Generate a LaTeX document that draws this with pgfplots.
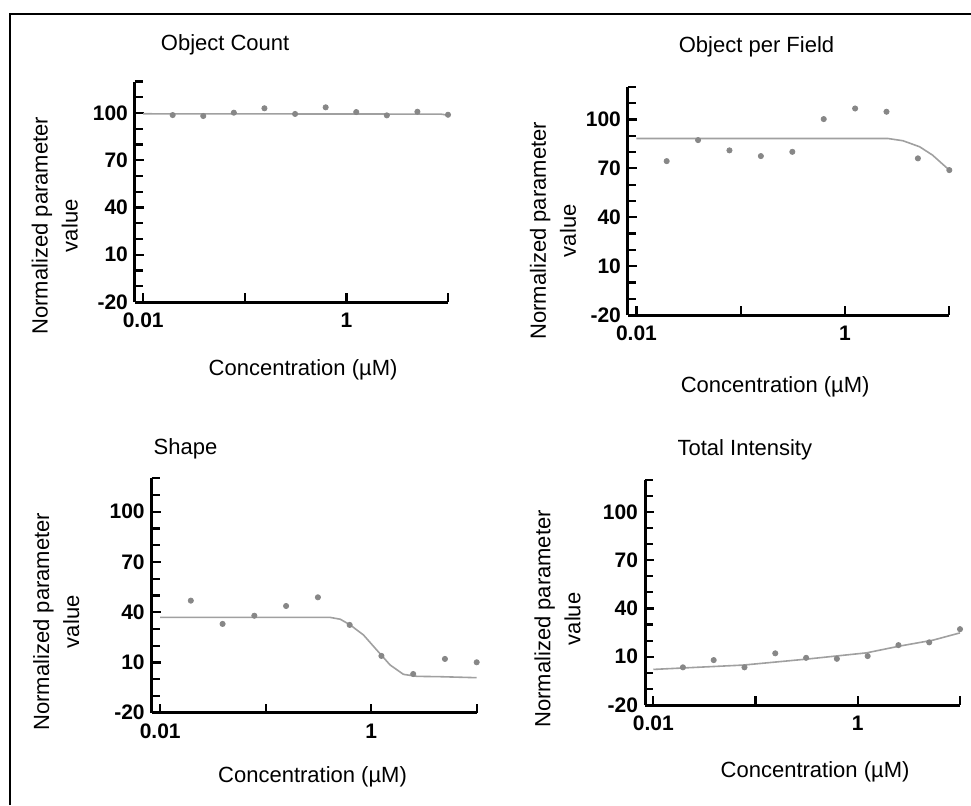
\documentclass[border=0pt]{standalone}
\usepackage{fontspec}
\setmainfont{Liberation Sans}
\usepackage{pgfplots}
\pgfplotsset{compat=1.18}

\definecolor{dotgray}{RGB}{135,135,135}
\definecolor{fitgray}{RGB}{160,160,160}

\pgfplotsset{
  oxpanel/.style={
    scale only axis,
    xmin=0.0083, xmax=10, ymin=-20, ymax=120,
    axis lines=left,
    axis line style={line width=1.5pt, -},
    tick align=inside,
    xtick={0.01,0.1,1,10}, xticklabels={0.01,,1,},
    xminorticks=false,
    ytick={-20,10,40,70,100}, yticklabels={-20,10,40,70,100},
    minor ytick={-10,0,20,30,50,60,80,90,110,120},
    major tick length=4.5pt, minor tick length=4pt,
    every tick/.style={black, line width=1.1pt},
    ticklabel style={font=\bfseries\fontsize{10.5}{11}\selectfont},
    xticklabel style={yshift=-2pt},
    clip=false,
    % default title style shifts up by 6pt; cancel it
    title style={anchor=center, yshift=-6pt, font=\fontsize{11}{13}\selectfont},
    xlabel={Concentration (µM)},
    xlabel style={anchor=center, font=\fontsize{11}{13}\selectfont},
    ylabel={Normalized parameter\\value},
    ylabel style={anchor=center, align=center, font=\fontsize{11}{15}\selectfont},
  },
  oxdots/.style={only marks, mark=*, mark size=1.3pt, color=dotgray},
  oxfit/.style={no marks, color=fitgray, line width=0.8pt},
}

\begin{document}
\begin{tikzpicture}
\useasboundingbox (0,0) rectangle (485.5pt,402.5pt);
\draw[line width=1.1pt] (5pt,0) -- (5pt,395.5pt) -- (485.5pt,395.5pt);

% Object Count
\begin{semilogxaxis}[oxpanel, at={(67.5pt,251.5pt)}, anchor=south west,
  width=156.5pt, height=110.25pt,
  title={Object Count},
  title style={at={(axis description cs:0.288,1.166)}},
  xlabel style={at={(axis description cs:0.537,-0.308)}},
  ylabel style={at={(axis description cs:-0.256,0.346)}}]
\addplot[oxfit] coordinates {(0.01,99.5) (8.5,99.3) (10,98.6)};
\addplot[oxdots] coordinates {
(0.0195,98.7) (0.039,98.1) (0.078,100.2) (0.156,103.0) (0.3125,99.4)
(0.625,103.6) (1.25,100.6) (2.5,98.5) (5,100.8) (10,98.9)};
\end{semilogxaxis}

% Object per Field
\begin{semilogxaxis}[oxpanel, at={(314pt,245pt)}, anchor=south west,
  width=160.65pt, height=114.1pt,
  title={Object per Field},
  title style={at={(axis description cs:0.400,1.174)}},
  xlabel style={at={(axis description cs:0.458,-0.316)}},
  ylabel style={at={(axis description cs:-0.233,0.369)}}]
\addplot[oxfit] coordinates {(0.01,88.3) (2.57,88.3) (3.6,86.9) (5.2,83.2) (6.9,78.1) (10,68.9)};
\addplot[oxdots] coordinates {
(0.0195,74.4) (0.039,87.3) (0.078,81.0) (0.156,77.5) (0.3125,80.1)
(0.625,100.2) (1.25,106.7) (2.5,104.7) (5,76.1) (10,68.9)};
\end{semilogxaxis}

% Shape
\begin{semilogxaxis}[oxpanel, at={(75.85pt,46.15pt)}, anchor=south west,
  width=162.5pt, height=117.25pt,
  title={Shape},
  title style={at={(axis description cs:0.104,1.125)}},
  xlabel style={at={(axis description cs:0.495,-0.273)}},
  ylabel style={at={(axis description cs:-0.294,0.388)}}]
\addplot[oxfit] coordinates {(0.01,36.9) (0.408,36.9) (0.509,35.8) (0.632,32.4) (0.845,26.4)
(1.13,17.4) (1.51,8.5) (2.02,2.9) (2.71,1.7) (4.5,1.5) (10,0.9)};
\addplot[oxdots] coordinates {
(0.0195,46.9) (0.039,33.0) (0.078,37.9) (0.156,43.7) (0.3125,48.9)
(0.625,32.4) (1.25,13.9) (2.5,3.1) (5,12.1) (10,10.1)};
\end{semilogxaxis}

% Total Intensity
\begin{semilogxaxis}[oxpanel, at={(322.5pt,50pt)}, anchor=south west,
  width=157.5pt, height=112.7pt,
  title={Total Intensity},
  title style={at={(axis description cs:0.317,1.131)}},
  xlabel style={at={(axis description cs:0.540,-0.296)}},
  ylabel style={at={(axis description cs:-0.278,0.382)}}]
\addplot[oxfit] coordinates {(0.01,2.1) (0.0759,4.8) (0.316,8.5) (1.22,12.4) (2.57,16.6) (5.46,20.3) (10,24.8)};
\addplot[oxdots] coordinates {
(0.0195,3.4) (0.039,7.9) (0.078,3.4) (0.156,12.1) (0.3125,9.3)
(0.625,8.7) (1.25,10.4) (2.5,17.2) (5,18.9) (10,27.1)};
\end{semilogxaxis}
\end{tikzpicture}
\end{document}
